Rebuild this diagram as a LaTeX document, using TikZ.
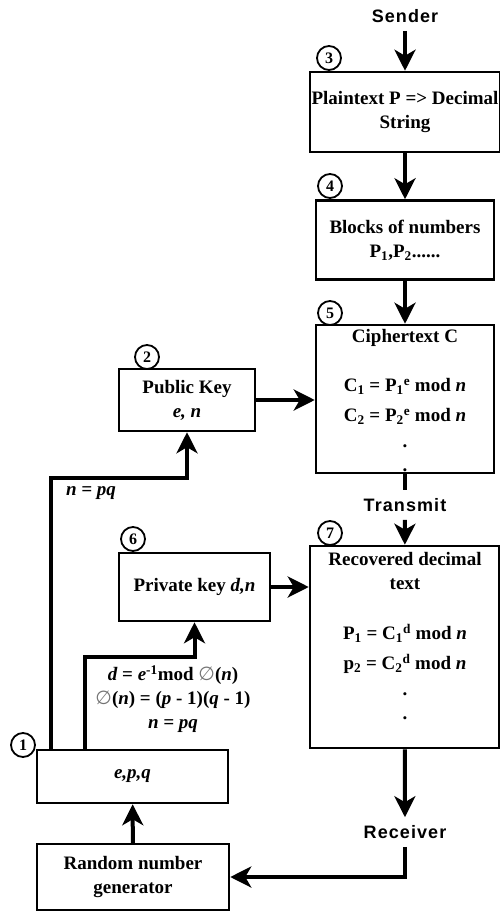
\documentclass[tikz,border=0pt]{standalone}
\usepackage{fontspec}
\setmainfont{Liberation Serif}
\newfontfamily\headfont[LetterSpace=6]{Liberation Sans Bold}
\newfontfamily\symfont{DejaVu Sans}
\usetikzlibrary{arrows.meta}
\tikzset{
    every node/.style={inner sep=0mm, align=center, font=\fontsize{19}{24}\selectfont\bfseries}
}
\tikzset{
    box/.style={draw, rectangle, line width=2.5pt},
    num/.style={draw, circle, line width=1.8pt, fill=white, minimum size=24pt, font=\fontsize{16}{16}\selectfont\bfseries},
    head/.style={inner ysep=8pt, font=\headfont\fontsize{18}{20}\selectfont},
    link/.style={line width=4pt, -{Stealth[length=21pt, width=21pt, inset=6pt]}},
    wire/.style={line width=4pt}
}
\newcommand{\phisym}{{\symfont\mdseries\color{black!55}\fontsize{19}{19}\selectfont ∅}}

\begin{document}
\begin{tikzpicture}[x=1pt, y=-1pt]
    \useasboundingbox (0,0) rectangle (500,912);

    \node (sender) at (405,16) [head] {Sender};
    \node (plain) at (405,112) [box, minimum width=190pt, minimum height=80pt] {Plaintext P => Decimal\\String};
    \node (blocks) at (405,240) [box, minimum width=178pt, minimum height=79pt] {Blocks of numbers\\P\textsubscript{1},P\textsubscript{2}......};
    \node (cipher) at (405,399) [box, minimum width=178pt, minimum height=148pt] {};
    \node (ctext) at (405,401) {Ciphertext C\\[25pt]C\textsubscript{1} = P\textsubscript{1}\textsuperscript{e} mod \textit{n}\\[6pt]C\textsubscript{2} = P\textsubscript{2}\textsuperscript{e} mod \textit{n}\\[2pt].\\.};
    \node (transmit) at (405,505) [head] {Transmit};
    \node (recov) at (404.5,647) [box, minimum width=189pt, minimum height=202pt] {};
    \node (rtext) at (405,636) {Recovered decimal\\text\\[26pt]P\textsubscript{1} = C\textsubscript{1}\textsuperscript{d} mod \textit{n}\\[6pt]p\textsubscript{2} = C\textsubscript{2}\textsuperscript{d} mod \textit{n}\\[2pt].\\.};
    \node (receiver) at (405,832) [head] {Receiver};

    \node (pub) at (187,400) [box, minimum width=136pt, minimum height=62pt] {Public Key\\\textit{e, n}};
    \node (priv) at (194.5,587) [box, minimum width=151pt, minimum height=68pt] {Private key \textit{d,n}};
    \node (epq) at (132.5,776.5) [box, minimum width=191pt, minimum height=53pt] {\textit{e,p,q}};
    \node (rng) at (133,877) [box, minimum width=192pt, minimum height=66pt] {Random number\\generator};

    \node (npq) at (91,493) {\textit{n = pq}};
    \node (dform) at (173,699) {\textit{d} = \textit{e}\textsuperscript{-1}mod \phisym(\textit{n})\\\phisym(\textit{n}) = (\textit{p} - 1)(\textit{q} - 1)\\\textit{n = pq}};

    \node (n1) at (23,745) [num] {1};
    \node (n2) at (147,357) [num] {2};
    \node (n3) at (329,58) [num] {3};
    \node (n4) at (330,186) [num] {4};
    \node (n5) at (330,313) [num] {5};
    \node (n6) at (133,539) [num] {6};
    \node (n7) at (330,533) [num] {7};

    \coordinate (ka) at (51,750);
    \coordinate (kb) at (51,478);
    \coordinate (kc) at (85,750);
    \coordinate (kd) at (85,657);

    \draw (sender) edge[link] (plain);
    \draw (plain) edge[link] (blocks);
    \draw (blocks) edge[link] (cipher);
    \draw (cipher) edge[wire] (transmit);
    \draw (transmit) edge[link] (recov);
    \draw (recov) edge[link] (receiver);
    \draw[link] (receiver) |- (rng);
    \draw (rng) edge[link] (epq);
    \draw[link] (ka) -- (kb) -| (pub);
    \draw[link] (kc) -- (kd) -| (priv);
    \draw[link] (pub.east) -- (pub.east -| cipher.west);
    \draw[link] (priv.east) -- (priv.east -| recov.west);
\end{tikzpicture}
\end{document}
